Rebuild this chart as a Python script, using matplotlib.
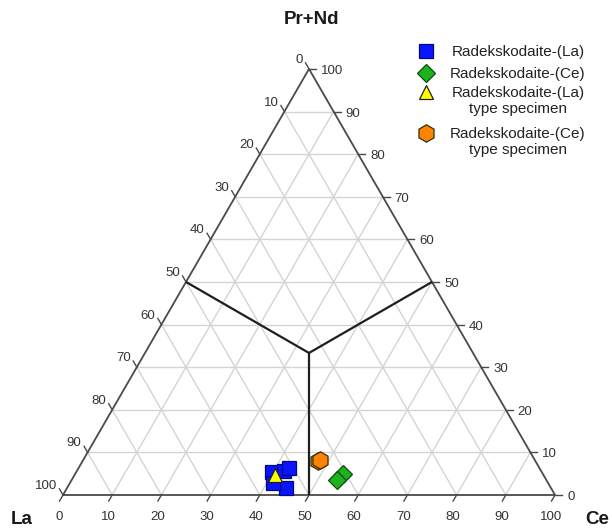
import numpy as np
import matplotlib
matplotlib.use("Agg")
import matplotlib.pyplot as plt

plt.rcParams['font.family'] = ['Liberation Sans', 'DejaVu Sans']

# Compositions in percent (La, Ce, Pr+Nd)
la_la = [54.8, 52.3, 53.9, 55.9, 50.9]
ce_la = [39.9, 42.1, 44.5, 41.3, 42.8]
prnd_la = [5.3, 5.6, 1.6, 2.8, 6.3]

la_ce = [40.6, 42.6]
ce_ce = [54.5, 53.9]
prnd_ce = [4.9, 3.5]

la_la_type = [54.6]
ce_la_type = [40.7]
prnd_la_type = [4.7]

la_ce_type = [44.3, 43.7]
ce_ce_type = [47.8, 48.1]
prnd_ce_type = [7.9, 8.2]

ticks = [0, 10, 20, 30, 40, 50, 60, 70, 80, 90, 100]

legend_labels = ["Radekskodaite-(La)", "Radekskodaite-(Ce)",
                 "Radekskodaite-(La)\ntype specimen",
                 "Radekskodaite-(Ce)\ntype specimen"]

H = np.sqrt(3) / 2


def to_xy(la, ce, prnd):
    la, ce, prnd = (np.asarray(v, dtype=float) for v in (la, ce, prnd))
    tot = la + ce + prnd
    c = ce / tot
    p = prnd / tot
    return c + p / 2, p * H


W, Hpx = 612, 528
fig = plt.figure(figsize=(W / 100, Hpx / 100), dpi=100)
ax = fig.add_axes([0, 0, 1, 1])
scale = 492.0
x0 = -63 / scale
y0 = -33 / scale
ax.set_xlim(x0, x0 + W / scale)
ax.set_ylim(y0, y0 + Hpx / scale)
ax.axis('off')

px = 1 / scale  # one pixel in data units

grid_kw = dict(color='#d4d4d4', lw=1.0, zorder=1)
for k in ticks[1:-1]:
    f = k / 100
    # constant Pr+Nd
    xa, ya = to_xy(1 - f, 0, f)
    xb, yb = to_xy(0, 1 - f, f)
    ax.plot([xa, xb], [ya, yb], **grid_kw)
    # constant Ce
    xa, ya = to_xy(1 - f, f, 0)
    xb, yb = to_xy(0, f, 1 - f)
    ax.plot([xa, xb], [ya, yb], **grid_kw)
    # constant La
    xa, ya = to_xy(f, 1 - f, 0)
    xb, yb = to_xy(f, 0, 1 - f)
    ax.plot([xa, xb], [ya, yb], **grid_kw)

# triangle frame
fx, fy = to_xy([100, 0, 0, 100], [0, 100, 0, 0], [0, 0, 100, 0])
ax.plot(fx, fy, color='#4a4a4a', lw=1.3, zorder=2, solid_joinstyle='miter')

# ticks and tick labels
tick_col = '#4a4a4a'
lab_kw = dict(fontsize=9.5, color='#333333', zorder=3)
tl = 7 * px
for k in ticks:
    f = k / 100
    # bottom edge: Ce
    x, y = to_xy(1 - f, f, 0)
    ax.plot([x, x - tl * 0.5], [y, y - tl * H], color=tick_col, lw=1.0, zorder=2)
    ax.text(x - 4 * px, y - 22 * px, str(k), ha='center', va='center', **lab_kw)
    # right edge: Pr+Nd
    x, y = to_xy(0, 1 - f, f)
    ax.plot([x, x + tl], [y, y], color=tick_col, lw=1.0, zorder=2)
    ax.text(x + 12 * px, y - 2 * px, str(k), ha='left', va='center', **lab_kw)
    # left edge: La
    x, y = to_xy(f, 0, 1 - f)
    ax.plot([x, x - tl * 0.5], [y, y + tl * H], color=tick_col, lw=1.0, zorder=2)
    ax.text(x - 6 * px, y + 9 * px, str(k), ha='right', va='center', **lab_kw)

# field boundaries
cx, cy = to_xy(1, 1, 1)
for a, b, c in [(50, 0, 50), (0, 50, 50), (50, 50, 0)]:
    x, y = to_xy(a, b, c)
    ax.plot([x, cx], [y, cy], color='#1e1e1e', lw=1.6, zorder=2,
            solid_capstyle='butt')

# vertex labels
ax.text((311 - 63) * px, (495 - 20) * px, 'Pr+Nd', ha='center', va='center',
        fontsize=13.5, fontweight='bold', color='#1a1a1a')
ax.text((22 - 63) * px, (495 - 520) * px, 'La', ha='center', va='center',
        fontsize=13.5, fontweight='bold', color='#1a1a1a')
ax.text((597 - 63) * px, (495 - 519) * px, 'Ce', ha='center', va='center',
        fontsize=13.5, fontweight='bold', color='#1a1a1a')

# data
styles = [
    dict(marker='s', ms=10, mfc='#0a14ff', mec='#000a80', mew=0.9),
    dict(marker='D', ms=9.5, mfc='#1fb21f', mec='#0b4d0b', mew=0.9),
    dict(marker='^', ms=10.5, mfc='#ffff00', mec='#202020', mew=0.9),
    dict(marker='h', ms=12.5, mfc='#ff8200', mec='#303010', mew=0.9),
]
series = [
    (la_la, ce_la, prnd_la),
    (la_ce, ce_ce, prnd_ce),
    (la_la_type, ce_la_type, prnd_la_type),
    (la_ce_type, ce_ce_type, prnd_ce_type),
]
for (la, ce, pr), st in zip(series, styles):
    x, y = to_xy(la, ce, pr)
    ax.plot(x, y, ls='none', zorder=4, **st)

# legend
leg_marker_x = (426 - 63) * px
leg_text_x = (518 - 63) * px
leg_rows = [51, 73, 92.5, 133.5]
for lab, st, row in zip(legend_labels, styles, leg_rows):
    yy = (495 - row) * px
    ax.plot([leg_marker_x], [yy], ls='none', zorder=4, **st)
    ax.text(leg_text_x, yy + 6 * px, lab, ha='center', va='top',
            multialignment='center', fontsize=11, color='#222222',
            linespacing=1.1, zorder=4)

fig.savefig('out.png', dpi=100)
